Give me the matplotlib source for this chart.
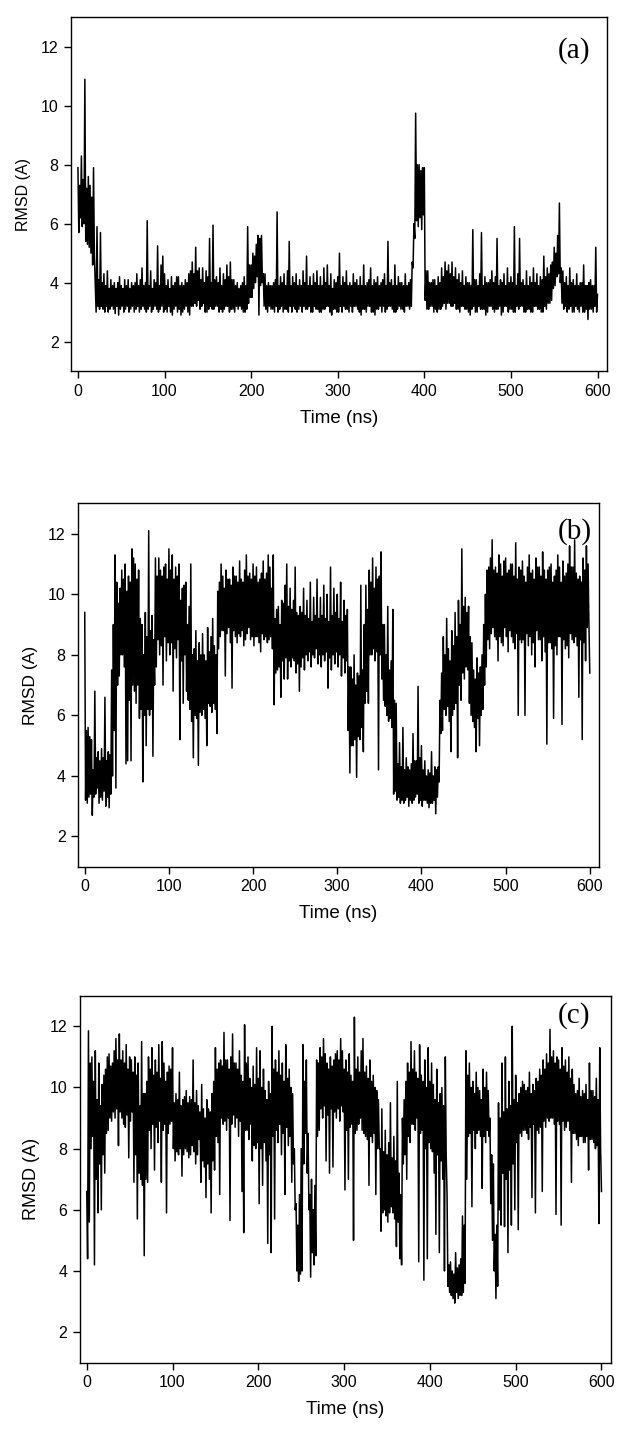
import matplotlib
matplotlib.use("Agg")
import matplotlib.pyplot as plt

# the trace swings between an upper and a lower value inside every 2 ns bin,
# so readings are stored as the top (even ns) and bottom (odd ns) of each bin
time_ns = list(range(0, 601))

top_a = [
    7.9, 7.3, 8.3, 7.5, 10.9, 7.2, 7.6, 7.3, 6.9, 7.9,
    3.9, 5.9, 4.1, 5.7, 4.0, 4.3, 3.9, 4.4, 3.8, 4.1,
    3.9, 4.0, 3.8, 4.0, 4.2, 3.9, 3.8, 4.1, 3.9, 4.1,
    3.8, 4.0, 3.9, 4.0, 4.3, 3.9, 4.1, 4.5, 3.9, 4.0,
    6.1, 3.9, 4.4, 3.8, 4.1, 4.0, 5.25, 3.9, 4.6, 4.9,
    4.3, 3.9, 4.1, 3.8, 4.2, 3.9, 4.0, 4.2, 4.2, 3.9,
    4.0, 3.9, 4.1, 4.0, 4.3, 4.4, 4.7, 4.3, 5.2, 4.4,
    4.5, 4.1, 4.5, 4.0, 4.4, 4.2, 5.5, 4.0, 5.95, 4.1,
    4.2, 4.0, 4.5, 3.9, 4.3, 4.1, 4.6, 4.2, 4.7, 4.1,
    4.1, 3.9, 4.0, 3.8, 3.9, 4.0, 4.2, 3.9, 5.9, 4.6,
    4.6, 5.0, 4.9, 5.3, 5.6, 5.5, 5.6, 4.3, 4.3, 3.9,
    4.0, 3.9, 3.9, 4.0, 4.1, 6.4, 3.9, 4.2, 4.0, 4.3,
    3.9, 4.4, 5.4, 3.9, 4.2, 4.0, 4.3, 3.9, 4.1, 3.9,
    4.4, 4.0, 4.9, 3.9, 4.2, 3.9, 4.3, 4.0, 4.4, 3.9,
    4.2, 3.9, 4.5, 4.0, 4.6, 3.9, 4.3, 3.8, 4.1, 4.0,
    4.2, 5.0, 3.9, 4.2, 4.0, 4.4, 3.9, 4.0, 3.9, 4.3,
    4.0, 4.1, 3.9, 4.2, 3.9, 4.6, 3.9, 4.0, 4.1, 4.5,
    3.9, 4.1, 4.0, 4.2, 3.9, 4.0, 4.1, 4.3, 3.9, 5.4,
    4.0, 4.1, 3.9, 4.6, 3.9, 4.2, 4.0, 4.0, 3.9, 4.3,
    3.9, 4.0, 4.1, 4.7, 6.0, 9.75, 8.0, 8.0, 7.8, 7.9,
    7.9, 4.4, 4.4, 4.0, 4.0, 4.1, 4.1, 3.9, 4.2, 4.0,
    4.5, 4.2, 4.7, 4.4, 4.6, 4.3, 4.7, 4.2, 4.5, 4.1,
    4.3, 4.0, 4.4, 3.9, 4.2, 4.0, 4.0, 3.9, 5.8, 4.1,
    4.1, 3.9, 4.3, 5.7, 3.9, 4.2, 4.0, 4.0, 4.1, 4.4,
    4.0, 4.2, 5.5, 3.9, 4.1, 4.0, 4.3, 3.9, 4.5, 4.0,
    4.2, 4.0, 5.9, 3.9, 4.3, 5.5, 4.0, 4.1, 3.9, 4.4,
    3.9, 4.2, 4.0, 4.5, 4.0, 4.3, 3.9, 4.2, 4.1, 4.9,
    4.2, 4.5, 4.3, 4.6, 4.7, 5.2, 5.0, 5.6, 6.7, 4.5,
    4.4, 4.0, 4.2, 3.9, 4.5, 4.0, 4.1, 3.9, 4.3, 3.9,
    4.0, 4.0, 4.6, 3.9, 3.9, 4.0, 4.1, 3.9, 3.9, 5.2,
    3.6,
]
bot_a = [
    5.7, 6.2, 5.9, 6.0, 5.4, 5.3, 5.2, 5.0, 4.6, 4.9,
    3.0, 3.2, 3.1, 3.2, 3.1, 3.0, 3.2, 3.0, 3.1, 3.2,
    3.1, 2.95, 3.2, 2.9, 3.1, 3.2, 3.0, 3.1, 3.2, 3.0,
    3.1, 3.2, 3.0, 3.1, 3.2, 3.0, 3.1, 3.2, 3.1, 3.0,
    3.1, 3.2, 3.0, 3.1, 3.2, 3.1, 3.0, 3.1, 3.2, 3.0,
    3.1, 3.0, 3.2, 3.0, 2.9, 3.1, 3.2, 3.0, 3.1, 2.9,
    3.0, 3.1, 3.2, 3.0, 2.9, 3.2, 3.2, 3.3, 3.2, 3.4,
    3.1, 3.2, 3.3, 3.0, 3.0, 3.1, 3.2, 3.1, 3.1, 3.2,
    3.2, 3.0, 3.1, 3.0, 3.1, 3.2, 3.2, 3.0, 3.1, 3.1,
    3.0, 3.2, 3.1, 3.2, 3.1, 3.0, 3.0, 3.1, 3.3, 3.5,
    3.5, 3.8, 4.0, 4.2, 2.9, 3.9, 4.0, 3.2, 3.1, 3.0,
    3.2, 3.1, 3.1, 3.0, 3.2, 3.0, 3.1, 3.2, 3.0, 3.1,
    3.1, 3.0, 3.2, 3.0, 3.2, 3.1, 3.0, 3.1, 3.2, 3.0,
    3.2, 3.1, 3.1, 3.2, 3.0, 3.0, 3.2, 3.1, 3.1, 3.0,
    3.0, 3.1, 3.1, 3.2, 3.2, 3.0, 2.9, 3.1, 3.1, 3.0,
    3.0, 3.2, 3.0, 3.2, 3.1, 3.1, 3.0, 3.2, 3.0, 3.2,
    3.2, 3.1, 3.0, 2.9, 3.1, 3.1, 3.0, 3.2, 3.2, 3.0,
    3.0, 2.9, 3.1, 3.1, 3.2, 3.0, 3.2, 3.0, 3.1, 3.2,
    3.2, 3.1, 3.0, 3.0, 3.1, 3.2, 3.1, 3.1, 3.0, 3.2,
    3.2, 3.1, 3.2, 4.5, 5.5, 6.1, 5.9, 6.2, 5.8, 6.3,
    3.4, 3.1, 3.1, 3.2, 3.2, 3.0, 3.1, 3.0, 3.1, 3.1,
    3.2, 3.3, 3.1, 3.3, 3.3, 3.2, 3.2, 3.3, 3.1, 3.1,
    3.0, 3.2, 3.2, 3.1, 3.1, 3.0, 2.9, 3.1, 3.2, 3.0,
    3.0, 3.2, 3.1, 3.1, 3.1, 2.9, 3.0, 3.2, 3.2, 3.1,
    3.0, 3.1, 3.1, 3.2, 2.9, 3.0, 3.2, 3.2, 3.0, 3.1,
    3.1, 3.0, 3.0, 3.2, 3.1, 3.2, 3.2, 3.0, 3.0, 3.1,
    3.1, 3.0, 3.0, 3.2, 3.2, 3.1, 3.1, 3.0, 3.0, 3.2,
    3.1, 3.3, 3.3, 3.4, 3.8, 3.9, 4.2, 4.3, 4.0, 3.3,
    3.1, 3.2, 3.0, 3.1, 3.2, 3.0, 3.0, 3.2, 3.1, 3.0,
    3.2, 3.0, 3.0, 3.1, 2.75, 3.1, 3.1, 3.0, 3.2, 3.0,
]

top_b = [
    9.4, 5.5, 5.6, 5.3, 5.2, 4.2, 6.8, 4.6, 4.8, 4.5,
    4.9, 4.6, 6.6, 4.5, 4.8, 4.7, 7.5, 9.0, 11.3, 10.4,
    9.7, 10.2, 10.8, 10.5, 11.0, 10.1, 10.6, 10.4, 11.5, 11.2,
    11.0, 10.5, 10.8, 9.2, 9.0, 8.0, 9.4, 8.6, 12.1, 8.8,
    9.3, 8.5, 11.2, 10.6, 11.2, 10.8, 10.6, 10.9, 11.0, 10.5,
    11.5, 10.8, 11.3, 10.5, 10.9, 10.6, 11.0, 9.8, 10.2, 10.3,
    10.4, 9.0, 9.6, 11.0, 8.0, 8.2, 8.8, 7.8, 8.4, 8.0,
    8.7, 8.0, 7.8, 8.9, 8.1, 8.6, 9.2, 8.3, 8.0, 10.1,
    10.4, 11.0, 10.6, 10.2, 10.8, 10.5, 10.5, 10.3, 10.9, 10.6,
    10.6, 10.4, 11.1, 10.5, 10.4, 10.8, 11.3, 10.6, 10.7, 10.5,
    11.0, 10.6, 10.9, 10.4, 10.5, 10.7, 11.1, 10.5, 10.7, 11.3,
    10.9, 10.2, 11.3, 9.2, 9.5, 9.6, 9.0, 9.8, 9.7, 10.3,
    11.0, 9.6, 10.2, 9.5, 9.8, 10.9, 9.4, 9.3, 9.6, 9.4,
    10.2, 9.3, 9.8, 9.2, 10.4, 9.1, 9.9, 9.3, 10.5, 9.2,
    9.9, 9.3, 10.3, 9.2, 10.0, 9.1, 10.9, 9.3, 10.2, 9.4,
    10.0, 9.2, 10.4, 9.1, 9.8, 9.3, 9.5, 7.6, 7.6, 7.2,
    8.0, 7.0, 7.4, 7.3, 10.3, 7.5, 9.0, 10.3, 9.5, 10.8,
    10.4, 11.2, 10.2, 10.9, 10.5, 10.6, 11.4, 9.0, 9.0, 8.0,
    9.6, 7.5, 7.8, 9.5, 6.5, 6.4, 4.4, 5.1, 4.3, 5.6,
    4.2, 4.6, 4.3, 4.2, 4.4, 5.4, 4.5, 4.5, 6.96, 4.6,
    5.0, 4.2, 4.5, 4.0, 4.2, 4.1, 4.8, 4.0, 4.3, 4.2,
    4.3, 6.5, 7.4, 8.6, 8.0, 9.2, 8.2, 7.8, 8.8, 8.3,
    9.4, 8.6, 9.8, 9.0, 11.5, 9.6, 9.9, 9.4, 9.6, 8.6,
    8.4, 7.5, 7.2, 7.9, 7.4, 7.6, 8.0, 9.0, 10.0, 10.8,
    10.9, 11.2, 11.8, 10.8, 10.9, 10.7, 11.3, 11.0, 10.6, 11.1,
    11.2, 10.7, 10.8, 11.0, 11.0, 10.6, 11.7, 10.5, 10.9, 10.8,
    11.1, 10.6, 10.4, 10.9, 11.3, 10.7, 10.8, 10.5, 11.2, 10.9,
    10.9, 10.6, 11.4, 10.8, 10.5, 10.8, 10.9, 11.0, 10.4, 10.6,
    10.8, 11.3, 10.9, 10.4, 11.1, 10.6, 10.7, 11.0, 11.6, 10.9,
    10.9, 11.8, 10.7, 10.5, 10.6, 10.4, 11.2, 10.8, 11.6, 11.0,
    7.4,
]
bot_b = [
    3.2, 3.1, 3.3, 3.4, 2.7, 3.3, 3.4, 3.6, 3.1, 3.3,
    3.2, 3.5, 3.0, 3.3, 2.95, 3.4, 4.0, 5.5, 3.6, 7.0,
    7.3, 8.0, 8.0, 7.6, 4.4, 4.5, 6.5, 4.5, 7.0, 6.8,
    6.4, 7.0, 5.9, 6.2, 3.8, 6.0, 5.0, 6.2, 6.0, 6.2,
    4.65, 7.0, 7.6, 8.5, 8.0, 8.3, 7.0, 8.6, 7.8, 8.4,
    8.0, 8.4, 6.8, 8.2, 7.9, 8.5, 5.2, 7.8, 6.4, 8.0,
    6.8, 6.5, 6.2, 5.8, 4.6, 6.0, 5.9, 4.35, 6.1, 6.0,
    6.2, 5.9, 5.0, 6.4, 6.3, 6.1, 6.4, 6.2, 5.4, 8.2,
    8.6, 8.8, 8.8, 7.3, 8.7, 8.9, 8.4, 6.9, 8.8, 8.6,
    8.4, 8.7, 8.6, 8.8, 8.3, 8.5, 8.7, 8.9, 8.5, 8.6,
    8.3, 8.6, 8.6, 8.4, 8.1, 8.7, 8.5, 8.6, 8.4, 8.5,
    8.6, 8.2, 6.35, 7.4, 7.5, 7.6, 6.6, 7.8, 7.2, 7.9,
    7.2, 7.8, 7.6, 7.9, 7.8, 7.4, 7.7, 6.8, 7.6, 7.9,
    7.5, 8.0, 7.8, 8.1, 7.6, 8.0, 7.9, 8.2, 7.7, 8.0,
    7.6, 8.0, 7.8, 8.1, 6.9, 7.9, 7.5, 8.0, 7.7, 8.1,
    7.6, 8.0, 7.3, 7.9, 7.4, 7.8, 5.5, 4.1, 5.0, 5.0,
    5.2, 3.95, 5.3, 5.2, 5.6, 4.8, 6.4, 6.8, 6.4, 8.0,
    8.0, 8.2, 7.8, 8.1, 4.2, 8.0, 7.2, 6.5, 6.3, 6.0,
    5.8, 5.9, 5.6, 3.4, 3.5, 3.2, 3.3, 3.1, 3.2, 3.1,
    3.2, 3.3, 3.0, 3.2, 3.1, 3.2, 3.3, 3.4, 3.1, 3.2,
    3.0, 3.2, 3.2, 3.1, 2.95, 3.1, 3.1, 3.2, 2.75, 3.3,
    3.8, 5.4, 5.5, 6.2, 6.0, 6.3, 5.8, 4.8, 6.0, 6.2,
    6.4, 4.6, 7.0, 6.5, 7.4, 7.2, 7.6, 7.5, 6.4, 6.0,
    5.8, 5.6, 4.8, 5.9, 5.0, 6.0, 6.2, 7.0, 7.6, 8.5,
    8.2, 8.7, 8.9, 8.6, 8.5, 7.8, 8.6, 8.4, 8.3, 8.9,
    8.6, 8.1, 8.8, 8.6, 8.4, 8.2, 8.7, 6.0, 8.5, 8.4,
    8.5, 6.0, 8.7, 8.3, 8.6, 8.0, 8.4, 7.6, 8.8, 8.5,
    8.5, 7.8, 8.6, 8.1, 5.05, 8.4, 8.4, 8.2, 5.9, 8.3,
    8.0, 8.6, 8.6, 5.7, 8.5, 8.2, 8.3, 7.9, 8.7, 8.5,
    8.4, 8.6, 8.3, 6.6, 8.5, 5.2, 8.4, 7.8, 8.9, 9.0,
]

top_c = [
    6.6, 11.85, 10.8, 11.0, 10.2, 11.2, 9.6, 10.8, 9.4, 10.1,
    10.4, 10.6, 11.0, 11.1, 10.7, 10.8, 11.2, 11.6, 10.9, 11.75,
    10.9, 11.2, 10.8, 11.4, 10.6, 11.0, 10.9, 10.5, 11.0, 10.4,
    10.8, 9.4, 11.5, 9.8, 9.8, 10.2, 11.0, 10.6, 11.3, 10.4,
    10.9, 10.5, 11.4, 10.3, 11.5, 10.8, 10.2, 10.5, 10.7, 10.6,
    11.3, 9.5, 9.8, 9.6, 10.5, 9.4, 9.6, 9.7, 9.9, 9.5,
    9.7, 9.6, 10.9, 9.5, 9.9, 9.4, 9.2, 10.1, 9.3, 9.0,
    9.6, 9.3, 9.2, 9.8, 10.2, 11.3, 10.6, 10.8, 10.9, 10.7,
    11.8, 10.9, 10.9, 10.6, 11.0, 11.75, 10.8, 10.8, 10.6, 11.2,
    10.4, 10.2, 12.05, 10.8, 11.0, 10.3, 10.0, 10.7, 10.1, 11.3,
    10.3, 11.2, 10.0, 10.6, 9.9, 9.6, 10.2, 9.8, 12.0, 10.6,
    10.9, 10.5, 11.2, 10.4, 10.8, 10.2, 11.4, 10.3, 10.6, 10.0,
    9.8, 8.0, 6.2, 5.5, 6.5, 8.0, 11.4, 10.2, 10.9, 8.5,
    6.5, 7.0, 6.0, 6.8, 10.9, 10.8, 11.3, 11.0, 11.6, 11.1,
    10.8, 10.6, 11.0, 10.7, 10.9, 11.1, 11.2, 10.9, 11.6, 11.2,
    10.6, 10.9, 10.5, 11.1, 10.4, 10.2, 12.3, 10.6, 11.0, 10.5,
    11.2, 11.6, 10.5, 10.7, 10.3, 10.9, 10.2, 10.4, 10.0, 9.9,
    9.6, 8.0, 9.3, 7.9, 8.6, 7.8, 8.2, 9.5, 7.7, 8.4,
    7.6, 10.2, 7.2, 6.5, 9.0, 9.6, 10.2, 10.8, 10.5, 11.5,
    10.6, 11.2, 10.5, 10.3, 11.4, 10.4, 10.2, 10.9, 10.0, 11.3,
    10.2, 10.8, 10.1, 9.6, 10.6, 9.5, 9.8, 10.0, 9.4, 11.0,
    6.5, 4.2, 4.3, 4.0, 3.9, 4.6, 4.1, 4.2, 4.4, 5.8,
    5.5, 11.2, 10.4, 10.8, 10.0, 10.2, 9.8, 10.5, 10.0, 9.9,
    9.6, 10.6, 10.0, 10.5, 9.9, 9.0, 7.8, 7.5, 5.2, 5.5,
    9.5, 9.0, 10.8, 9.2, 11.0, 9.3, 10.2, 9.4, 12.0, 9.6,
    10.4, 9.5, 9.8, 10.0, 10.2, 10.1, 9.9, 10.0, 10.5, 9.8,
    10.1, 9.9, 10.3, 10.2, 10.6, 10.4, 10.9, 10.6, 11.1, 10.8,
    11.9, 11.0, 11.2, 10.8, 11.0, 10.9, 10.6, 11.3, 10.7, 10.9,
    10.5, 11.0, 10.3, 10.6, 10.1, 9.8, 9.9, 10.3, 9.7, 9.9,
    9.8, 10.1, 9.6, 10.8, 9.9, 9.9, 9.7, 10.3, 9.6, 11.3,
    6.6,
]
bot_c = [
    4.4, 5.6, 8.0, 8.4, 4.2, 7.0, 5.9, 7.5, 6.0, 7.8,
    7.2, 8.5, 8.6, 9.0, 8.9, 9.2, 9.0, 9.3, 8.1, 9.2,
    9.0, 8.8, 8.7, 9.1, 7.7, 8.9, 9.2, 6.9, 7.8, 5.7,
    7.2, 7.0, 6.8, 4.5, 7.0, 6.9, 8.6, 8.0, 8.8, 7.3,
    8.7, 8.2, 8.9, 6.9, 8.6, 8.8, 5.9, 8.5, 8.8, 8.9,
    8.0, 7.6, 7.9, 7.8, 8.0, 7.1, 7.8, 8.0, 7.9, 7.7,
    7.8, 8.1, 7.9, 7.5, 7.8, 8.3, 6.9, 7.6, 7.4, 6.4,
    7.5, 7.0, 5.9, 7.6, 7.3, 8.4, 8.2, 6.5, 9.0, 8.8,
    8.9, 8.6, 9.0, 5.65, 8.8, 9.1, 8.7, 9.0, 8.4, 8.9,
    6.6, 5.25, 8.6, 8.6, 8.3, 8.8, 7.6, 8.1, 8.0, 8.2,
    6.2, 8.0, 6.8, 8.2, 7.6, 4.9, 7.8, 4.6, 8.4, 5.7,
    8.6, 8.2, 8.8, 7.8, 8.5, 6.5, 8.7, 8.1, 8.4, 6.9,
    7.5, 6.0, 4.0, 3.66, 3.9, 4.0, 7.5, 8.5, 7.2, 6.0,
    3.8, 4.6, 4.2, 4.5, 8.4, 8.6, 9.3, 9.0, 9.4, 7.6,
    9.1, 7.2, 9.3, 7.4, 9.2, 9.0, 9.3, 8.9, 9.4, 9.2,
    6.65, 8.6, 7.0, 8.7, 8.8, 5.0, 8.5, 8.6, 8.8, 9.0,
    8.6, 8.5, 8.4, 8.3, 6.8, 8.4, 8.2, 8.5, 6.5, 8.0,
    8.0, 5.3, 5.9, 6.0, 5.8, 5.6, 5.9, 6.1, 5.9, 5.7,
    4.8, 5.6, 4.4, 4.2, 7.5, 7.8, 7.0, 8.4, 8.2, 8.8,
    8.8, 8.6, 9.0, 4.3, 8.5, 8.6, 3.7, 8.0, 4.4, 8.2,
    8.0, 7.9, 7.2, 5.2, 7.8, 4.6, 7.6, 7.0, 4.0, 7.8,
    3.5, 3.3, 3.2, 3.1, 2.95, 3.3, 3.1, 3.2, 3.2, 3.3,
    3.6, 7.0, 8.4, 8.5, 6.1, 8.6, 8.0, 8.5, 8.6, 8.4,
    6.7, 8.4, 8.2, 8.6, 8.4, 6.2, 5.0, 4.0, 3.1, 3.5,
    6.0, 5.5, 7.2, 5.45, 7.0, 4.6, 7.3, 5.5, 7.5, 6.0,
    8.2, 5.35, 8.5, 8.4, 8.6, 8.6, 8.5, 8.3, 8.7, 6.4,
    8.8, 5.9, 8.6, 8.5, 8.7, 6.6, 8.9, 8.7, 9.0, 8.9,
    9.0, 9.0, 8.8, 5.85, 8.9, 8.8, 5.5, 8.9, 8.6, 8.7,
    8.9, 8.6, 6.9, 8.5, 8.5, 8.3, 8.1, 8.4, 8.4, 8.2,
    8.2, 8.4, 7.3, 8.3, 8.3, 8.2, 8.0, 8.1, 5.55, 8.0,
]

x_ticks = [0, 100, 200, 300, 400, 500, 600]
y_ticks = [2, 4, 6, 8, 10, 12]
panel_tags = ["(a)", "(b)", "(c)"]


def join_trace(top, bot):
    vals = []
    for k in range(len(bot)):
        vals.append(top[k])
        vals.append(bot[k])
    vals.append(top[-1])
    return vals


fig = plt.figure(figsize=(6.24, 14.36), dpi=100)

# axes boxes in figure fractions, one per panel
boxes = [
    [0.1138, 0.7416, 0.859, 0.2463],
    [0.125, 0.3964, 0.835, 0.253],
    [0.128, 0.051, 0.851, 0.2556],
]
tag_pos = [(0.938, 0.907), (0.954, 0.922), (0.93, 0.947)]
ylab_size = [11.5, 12.5, 13]
traces = [join_trace(top_a, bot_a), join_trace(top_b, bot_b), join_trace(top_c, bot_c)]

for i in range(3):
    ax = fig.add_axes(boxes[i])
    ax.plot(time_ns, traces[i], color="black", lw=1.1)
    ax.set_xlim(-8, 611)
    ax.set_ylim(1, 13)
    ax.set_xticks(x_ticks)
    ax.set_yticks(y_ticks)
    ax.tick_params(direction="out", length=5, width=1, labelsize=11.5,
                   top=False, right=False, pad=4)
    for tl in ax.get_xticklabels() + ax.get_yticklabels():
        tl.set_family("Liberation Sans")
    for s in ax.spines.values():
        s.set_linewidth(1.0)
    ax.set_xlabel("Time (ns)", fontsize=13.5, family="Liberation Sans", labelpad=8)
    ax.set_ylabel("RMSD (A)", fontsize=ylab_size[i], family="Liberation Sans", labelpad=7)
    ax.text(tag_pos[i][0], tag_pos[i][1], panel_tags[i], transform=ax.transAxes,
            ha="center", va="center", fontsize=21, family="Liberation Serif")

fig.savefig("out.png", dpi=100)
